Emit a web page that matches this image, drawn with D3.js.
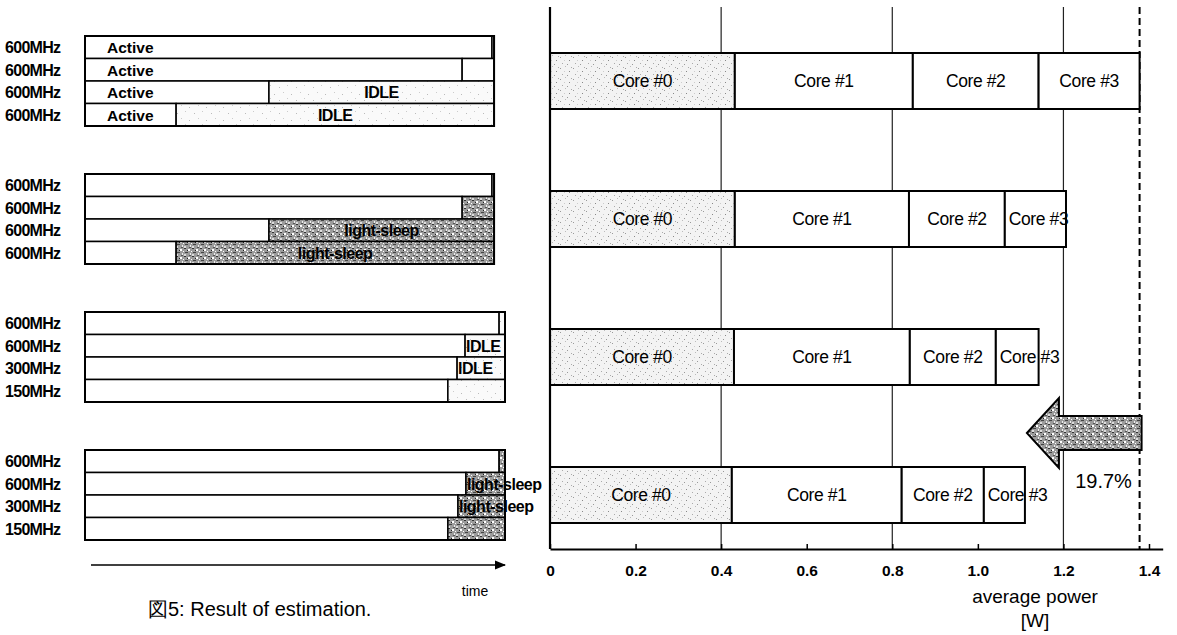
<!DOCTYPE html>
<html lang="en">
<head>
    <title>Result of estimation</title>
    <script src="https://d3js.org/d3.v7.min.js"></script>
    <style>
        body { margin: 0; background: #fff; }
        text { font-family: "Liberation Sans", Arial, sans-serif; fill: #000; }
    </style>
</head>
<body>
    <div id="chart"></div>

    <script>
        // ---- data ----
        // left panel: 4 scenarios x 4 cores, time in % of the run
        const coreFreqs = [
            ["600MHz", "600MHz", "600MHz", "600MHz"],
            ["600MHz", "600MHz", "600MHz", "600MHz"],
            ["600MHz", "600MHz", "300MHz", "150MHz"],
            ["600MHz", "600MHz", "300MHz", "150MHz"]
        ];
        const activeEnd = [
            [96.9, 89.8, 43.8, 21.7],
            [96.9, 89.8, 43.8, 21.7],
            [98.6, 90.5, 88.6, 86.4],
            [98.6, 90.7, 88.8, 86.4]
        ];
        const runEnd = [97.4, 97.4, 100, 100];
        // state after the active part: plain, idle, sleep
        const restState = [
            ["plain", "plain", "idle", "idle"],
            ["plain", "sleep", "sleep", "sleep"],
            ["idle", "idle", "idle", "idle"],
            ["sleep", "sleep", "sleep", "sleep"]
        ];
        const activeText = [
            ["Active", "Active", "Active", "Active"],
            ["", "", "", ""],
            ["", "", "", ""],
            ["", "", "", ""]
        ];
        const restText = [
            ["", "", "IDLE", "IDLE"],
            ["", "", "light-sleep", "light-sleep"],
            ["", "IDLE", "IDLE", ""],
            ["", "light-sleep", "light-sleep", ""]
        ];

        // right panel: average power per core [W]
        const scenarios = ["s1", "s2", "s3", "s4"];
        const coreNames = ["Core #0", "Core #1", "Core #2", "Core #3"];
        const core0 = [0.432, 0.432, 0.430, 0.425];
        const core1 = [0.416, 0.407, 0.411, 0.397];
        const core2 = [0.294, 0.224, 0.201, 0.192];
        const core3 = [0.236, 0.143, 0.100, 0.096];
        const powerTicks = [0, 0.2, 0.4, 0.6, 0.8, 1.0, 1.2, 1.4];
        const tickLabels = ["0", "0.2", "0.4", "0.6", "0.8", "1.0", "1.2", "1.4"];
        const gridValues = [0.4, 0.8, 1.2];
        const reduction = "19.7%";

        const width = 1177;
        const height = 635;

        const svg = d3.select("#chart")
            .append("svg")
            .attr("width", width)
            .attr("height", height);

        // ---- fill patterns (scanned textures) ----
        const defs = svg.append("defs");

        const speckle = defs.append("pattern")
            .attr("id", "speckle")
            .attr("width", 13).attr("height", 11)
            .attr("patternUnits", "userSpaceOnUse");
        speckle.append("rect").attr("width", 13).attr("height", 11).attr("fill", "#f3f3f3");
        [[1, 2, "#999"], [6, 0, "#bbb"], [10, 5, "#888"], [3, 8, "#aaa"], [8, 9, "#999"], [5, 5, "#ccc"], [12, 1, "#aaa"]]
            .forEach(d => speckle.append("rect").attr("x", d[0]).attr("y", d[1])
                .attr("width", 1).attr("height", 1).attr("fill", d[2]));

        const faint = defs.append("pattern")
            .attr("id", "faint")
            .attr("width", 17).attr("height", 13)
            .attr("patternUnits", "userSpaceOnUse");
        faint.append("rect").attr("width", 17).attr("height", 13).attr("fill", "#fafafa");
        [[2, 3, "#bbb"], [11, 1, "#ccc"], [7, 9, "#bbb"], [15, 7, "#ccc"]]
            .forEach(d => faint.append("rect").attr("x", d[0]).attr("y", d[1])
                .attr("width", 1).attr("height", 1).attr("fill", d[2]));

        const hatch = defs.append("pattern")
            .attr("id", "hatch")
            .attr("width", 8).attr("height", 8)
            .attr("patternUnits", "userSpaceOnUse");
        hatch.append("rect").attr("width", 8).attr("height", 8).attr("fill", "#9c9c9c");
        [[0, 0, 2, 1, "#333"], [4, 1, 2, 2, "#fff"], [1, 4, 3, 1, "#444"], [6, 5, 1, 2, "#eee"],
         [3, 2, 1, 1, "#222"], [0, 6, 2, 2, "#ddd"], [5, 7, 2, 1, "#555"], [7, 3, 1, 1, "#fff"]]
            .forEach(d => hatch.append("rect").attr("x", d[0]).attr("y", d[1])
                .attr("width", d[2]).attr("height", d[3]).attr("fill", d[4]));

        const restFill = { plain: "#fff", idle: "url(#faint)", sleep: "url(#hatch)" };

        // ---- shared vertical placement of the 4 scenarios ----
        const yc = d3.scalePoint()
            .domain(d3.range(4))
            .range([81, 495]);

        // ---- left panel: timelines ----
        const t = d3.scaleLinear().domain([0, 100]).range([85, 505]);
        const rowH = 22.5;

        const left = svg.append("g");

        coreFreqs.forEach((freqs, g) => {
            const top = yc(g) - rowH * 2;
            const grp = left.append("g");

            freqs.forEach((f, r) => {
                const y = top + r * rowH;

                grp.append("text")
                    .attr("x", 5)
                    .attr("y", y + rowH / 2 + 6)
                    .attr("font-size", 16)
                    .attr("font-weight", "bold")
                    .attr("letter-spacing", -0.7)
                    .text(f);

                // active part
                grp.append("rect")
                    .attr("x", t(0))
                    .attr("y", y)
                    .attr("width", t(activeEnd[g][r]) - t(0))
                    .attr("height", rowH)
                    .attr("fill", "#fff")
                    .attr("stroke", "#000")
                    .attr("stroke-width", 1.5);

                // rest part (idle / light-sleep)
                grp.append("rect")
                    .attr("x", t(activeEnd[g][r]))
                    .attr("y", y)
                    .attr("width", t(runEnd[g]) - t(activeEnd[g][r]))
                    .attr("height", rowH)
                    .attr("fill", restFill[restState[g][r]])
                    .attr("stroke", "#000")
                    .attr("stroke-width", 1.5);

                if (activeText[g][r]) {
                    grp.append("text")
                        .attr("x", t(0) + 22)
                        .attr("y", y + rowH / 2 + 6)
                        .attr("font-size", 15.5)
                        .attr("font-weight", "bold")
                        .text(activeText[g][r]);
                }

                if (restText[g][r]) {
                    const x0 = t(activeEnd[g][r]);
                    const x1 = t(runEnd[g]);
                    const wide = x1 - x0 > 100;
                    grp.append("text")
                        .attr("x", wide ? (x0 + x1) / 2 : x0 + 1)
                        .attr("y", y + rowH / 2 + 6)
                        .attr("text-anchor", wide ? "middle" : "start")
                        .attr("font-size", 16)
                        .attr("font-weight", "bold")
                        .attr("letter-spacing", -0.5)
                        .text(restText[g][r]);
                }
            });

            // outer frame of the group
            grp.append("rect")
                .attr("x", t(0))
                .attr("y", top)
                .attr("width", t(runEnd[g]) - t(0))
                .attr("height", rowH * 4)
                .attr("fill", "none")
                .attr("stroke", "#000")
                .attr("stroke-width", 2);
        });

        // time arrow
        svg.append("defs").append("marker")
            .attr("id", "head")
            .attr("viewBox", "0 0 10 10")
            .attr("refX", 9).attr("refY", 5)
            .attr("markerWidth", 7).attr("markerHeight", 7)
            .attr("markerUnits", "strokeWidth")
            .attr("orient", "auto")
            .append("path")
            .attr("d", "M0,1 L10,5 L0,9 Z")
            .attr("fill", "#000");

        svg.append("line")
            .attr("x1", t(0) + 6).attr("x2", t(100))
            .attr("y1", 565).attr("y2", 565)
            .attr("stroke", "#000")
            .attr("stroke-width", 1.6)
            .attr("marker-end", "url(#head)");

        svg.append("text")
            .attr("x", 475).attr("y", 596)
            .attr("text-anchor", "middle")
            .attr("font-size", 14)
            .text("time");

        // ---- right panel: stacked power bars ----
        const x = d3.scaleLinear().domain([0, 1.4]).range([550, 1149]);
        const axisY = 549;
        const gridTop = 7;
        const barH = 56;

        const series = [core0, core1, core2, core3];
        const stacked = scenarios.map((s, i) => {
            let acc = 0;
            return series.map((vals, c) => {
                const seg = { scen: i, core: c, x0: acc, x1: acc + vals[i] };
                acc += vals[i];
                return seg;
            });
        });
        const totals = stacked.map(segs => segs[segs.length - 1].x1);

        // grid lines
        svg.append("g")
            .selectAll("line")
            .data(gridValues)
            .join("line")
            .attr("x1", d => x(d)).attr("x2", d => x(d))
            .attr("y1", gridTop).attr("y2", axisY)
            .attr("stroke", "#222")
            .attr("stroke-width", 1.2);

        // reference (dashed) line at the first scenario total
        svg.append("line")
            .attr("x1", x(totals[0])).attr("x2", x(totals[0]))
            .attr("y1", gridTop).attr("y2", axisY)
            .attr("stroke", "#000")
            .attr("stroke-width", 2)
            .attr("stroke-dasharray", "7,4");

        // bars
        const segs = stacked.flat();
        svg.append("g")
            .selectAll("rect")
            .data(segs)
            .join("rect")
            .attr("x", d => x(d.x0))
            .attr("y", d => yc(d.scen) - barH / 2)
            .attr("width", d => x(d.x1) - x(d.x0))
            .attr("height", barH)
            .attr("fill", d => d.core === 0 ? "url(#speckle)" : "#fff")
            .attr("stroke", "#000")
            .attr("stroke-width", 2);

        svg.append("g")
            .selectAll("text")
            .data(segs)
            .join("text")
            .attr("x", d => {
                const w = x(d.x1) - x(d.x0);
                return w > 80 ? (x(d.x0) + x(d.x1)) / 2 : x(d.x0) + 4;
            })
            .attr("text-anchor", d => (x(d.x1) - x(d.x0)) > 80 ? "middle" : "start")
            .attr("y", d => yc(d.scen) + 6)
            .attr("font-size", 17.5)
            .attr("letter-spacing", -0.4)
            .text(d => coreNames[d.core]);

        // y axis line
        svg.append("line")
            .attr("x1", x(0)).attr("x2", x(0))
            .attr("y1", gridTop).attr("y2", axisY)
            .attr("stroke", "#000")
            .attr("stroke-width", 2.2);

        // x axis
        const xAxisScale = x.copy().domain([0, 1.432]).range([x(0), x(1.432)]);
        const xAxis = svg.append("g")
            .attr("transform", `translate(0, ${axisY})`)
            .call(d3.axisBottom(xAxisScale)
                .tickValues(powerTicks)
                .tickFormat((d, i) => tickLabels[i])
                .tickSizeInner(-5)
                .tickSizeOuter(0)
                .tickPadding(16));
        xAxis.select(".domain").attr("stroke", "#000").attr("stroke-width", 2);
        xAxis.selectAll(".tick line").attr("stroke", "#000").attr("stroke-width", 1.5);
        xAxis.selectAll(".tick text")
            .attr("font-family", "Liberation Sans, Arial, sans-serif")
            .attr("font-size", 15.5)
            .attr("font-weight", "bold")
            .attr("fill", "#000");

        svg.append("text")
            .attr("x", 1035).attr("y", 603)
            .attr("text-anchor", "middle")
            .attr("font-size", 19)
            .text("average power");
        svg.append("text")
            .attr("x", 1035).attr("y", 627)
            .attr("text-anchor", "middle")
            .attr("font-size", 19)
            .text("[W]");

        // reduction arrow: from first total back to last total
        const tipX = x(totals[3]) + 2;
        const endX = x(totals[0]) + 2;
        const ay = yc(3) - 62;
        const headW = 32, headH = 35, shaftH = 17;
        svg.append("path")
            .attr("d", `M${tipX},${ay} L${tipX + headW},${ay - headH} L${tipX + headW},${ay - shaftH}` +
                ` L${endX},${ay - shaftH} L${endX},${ay + shaftH} L${tipX + headW},${ay + shaftH}` +
                ` L${tipX + headW},${ay + headH} Z`)
            .attr("fill", "url(#hatch)")
            .attr("stroke", "#000")
            .attr("stroke-width", 2);

        svg.append("text")
            .attr("x", (x(1.2) + x(totals[0])) / 2 + 2)
            .attr("y", ay + 55)
            .attr("text-anchor", "middle")
            .attr("font-size", 20)
            .text(reduction);

        // caption
        svg.append("text")
            .attr("x", 148).attr("y", 616)
            .attr("font-size", 20)
            .attr("font-family", "Liberation Sans, 'Noto Sans CJK JP', sans-serif")
            .text("図5: Result of estimation.");
    </script>
</body>
</html>
